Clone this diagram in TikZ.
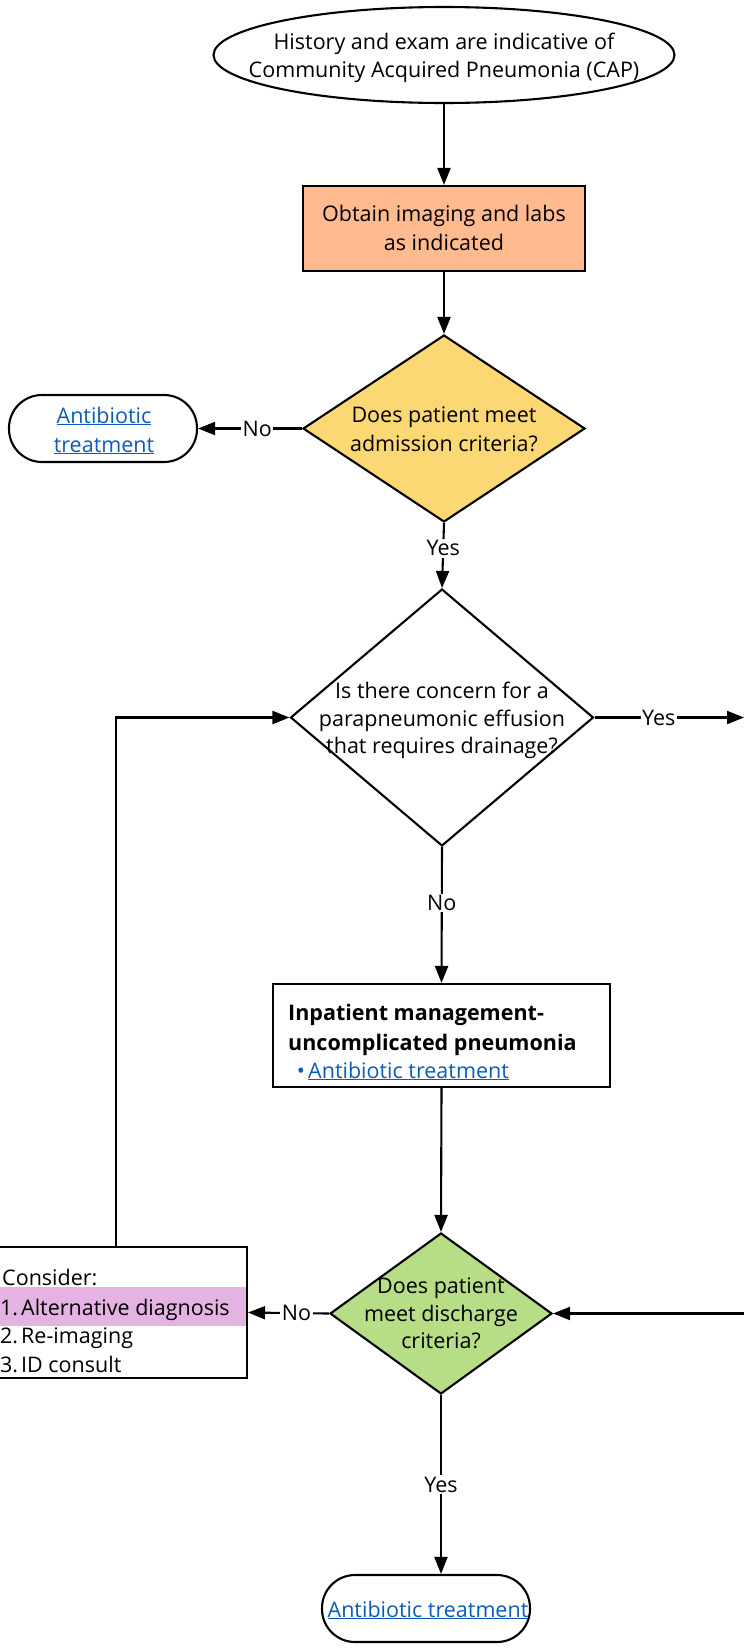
\documentclass[tikz,border=0pt]{standalone}
\usepackage{fontspec}
\setmainfont{Open Sans}
\usetikzlibrary{shapes.geometric,arrows.meta,calc}
\definecolor{orangefill}{HTML}{FFBA8F}
\definecolor{yellowfill}{HTML}{FCD875}
\definecolor{greenfill}{HTML}{B8DD87}
\definecolor{pinkfill}{HTML}{E5B3E3}
\definecolor{linkblue}{HTML}{0B5CBA}
\newcommand{\lnk}[1]{\textcolor{linkblue}{\underline{#1}}}
\begin{document}
\begin{tikzpicture}[x=1pt,y=-1pt,
  every node/.style={font=\fontsize{21.5}{29}\selectfont},
  ln/.style={line width=2.1pt},
  arr/.style={ln,-{Triangle[length=17pt,width=13pt]}},
  lbl/.style={fill=white,inner sep=1.5pt},
  txt/.style={anchor=base,inner sep=0},
  txtl/.style={anchor=base west,inner sep=0},
  boxshape/.style={draw,ln,inner sep=0}]
\useasboundingbox (0,0) rectangle (744,1649);

% shapes
\node[boxshape,ellipse,minimum width=461pt,minimum height=96pt] (start) at (444,55) {};
\node[boxshape,fill=orangefill,minimum width=282pt,minimum height=85pt] (obtain) at (444,228.5) {};
\node[boxshape,diamond,fill=yellowfill,minimum width=282pt,minimum height=187pt] (adm) at (444,428.5) {};
\node[boxshape,rounded corners=33pt,minimum width=188pt,minimum height=67pt] (abx1) at (103,428.5) {};
\node[boxshape,diamond,minimum width=303pt,minimum height=257pt] (eff) at (442,717.5) {};
\node[boxshape,minimum width=337pt,minimum height=103pt] (inpt) at (441.5,1035.5) {};
\node[boxshape,diamond,fill=greenfill,minimum width=222pt,minimum height=161pt] (dis) at (441,1313.5) {};
\node[boxshape,minimum width=249pt,minimum height=131pt] (consider) at (122.5,1312.5) {};
\fill[pinkfill] (0,1287) rectangle (246,1326);
\node[boxshape,rounded corners=33pt,minimum width=208pt,minimum height=67pt] (abx2) at (426,1608.5) {};

\coordinate (rA) at (744,717.5);
\coordinate (rB) at (744,1313.5);
\coordinate (loopTop) at (116,717.5);

% texts
\node[txt] (startT1) at (444,49) {History and exam are indicative of};
\node[txt] (startT2) at (444,77) {Community Acquired Pneumonia (CAP)};
\node[txt] (obtainT1) at (444,221) {Obtain imaging and labs};
\node[txt] (obtainT2) at (444,250) {as indicated};
\node[txt] (admT1) at (444,422) {Does patient meet};
\node[txt] (admT2) at (444,451) {admission criteria?};
\node[txt] (abx1T1) at (104,423) {\lnk{Antibiotic}};
\node[txt] (abx1T2) at (104,452) {\lnk{treatment}};
\node[txt] (effT1) at (442,698) {Is there concern for a};
\node[txt] (effT2) at (442,726) {parapneumonic effusion};
\node[txt] (effT3) at (442,753) {that requires drainage?};
\node[txtl] (inptT1) at (288,1020) {\bfseries Inpatient management-};
\node[txtl] (inptT2) at (288,1050) {\bfseries uncomplicated pneumonia};
\node[txt] (inptB) at (301,1078) {\textcolor{linkblue}{\textbullet}};
\node[txtl] (inptT3) at (308,1078) {\lnk{Antibiotic treatment}};
\node[txt] (disT1) at (441,1293) {Does patient};
\node[txt] (disT2) at (441,1321) {meet discharge};
\node[txt] (disT3) at (441,1348) {criteria?};
\node[txtl] (conT0) at (2,1285) {Consider:};
\node[txtl] (conN1) at (0,1315) {1.};
\node[txtl] (conT1) at (21,1315) {Alternative diagnosis};
\node[txtl] (conN2) at (0,1343) {2.};
\node[txtl] (conT2) at (21,1343) {Re-imaging};
\node[txtl] (conN3) at (0,1372) {3.};
\node[txtl] (conT3) at (21,1372) {ID consult};
\node[txt] (abx2T) at (428,1617) {\lnk{Antibiotic treatment}};

% connectors
\draw[arr] (start.south) -- (obtain.north);
\draw[arr] (obtain.south) -- (adm.north);
\draw[arr] (adm.west) -- node[lbl,pos=0.43]{No} (abx1.east);
\draw[arr] (adm.south) -- node[lbl,pos=0.39]{Yes} (eff.north);
\draw[arr] (eff.east) -- node[lbl,pos=0.43]{Yes} (rA);
\draw[arr] (eff.south) -- node[lbl,pos=0.41]{No} (inpt.north);
\draw[arr] (inpt.south) -- (dis.north);
\draw[arr] (rB) -- (dis.east);
\draw[arr] (dis.west) -- node[lbl,pos=0.4]{No} (consider.east);
\draw[arr] (consider.north -| loopTop) -- (loopTop) -- (eff.west);
\draw[arr] (dis.south) -- node[lbl,pos=0.5]{Yes} (dis.south |- abx2.north);
\end{tikzpicture}
\end{document}
